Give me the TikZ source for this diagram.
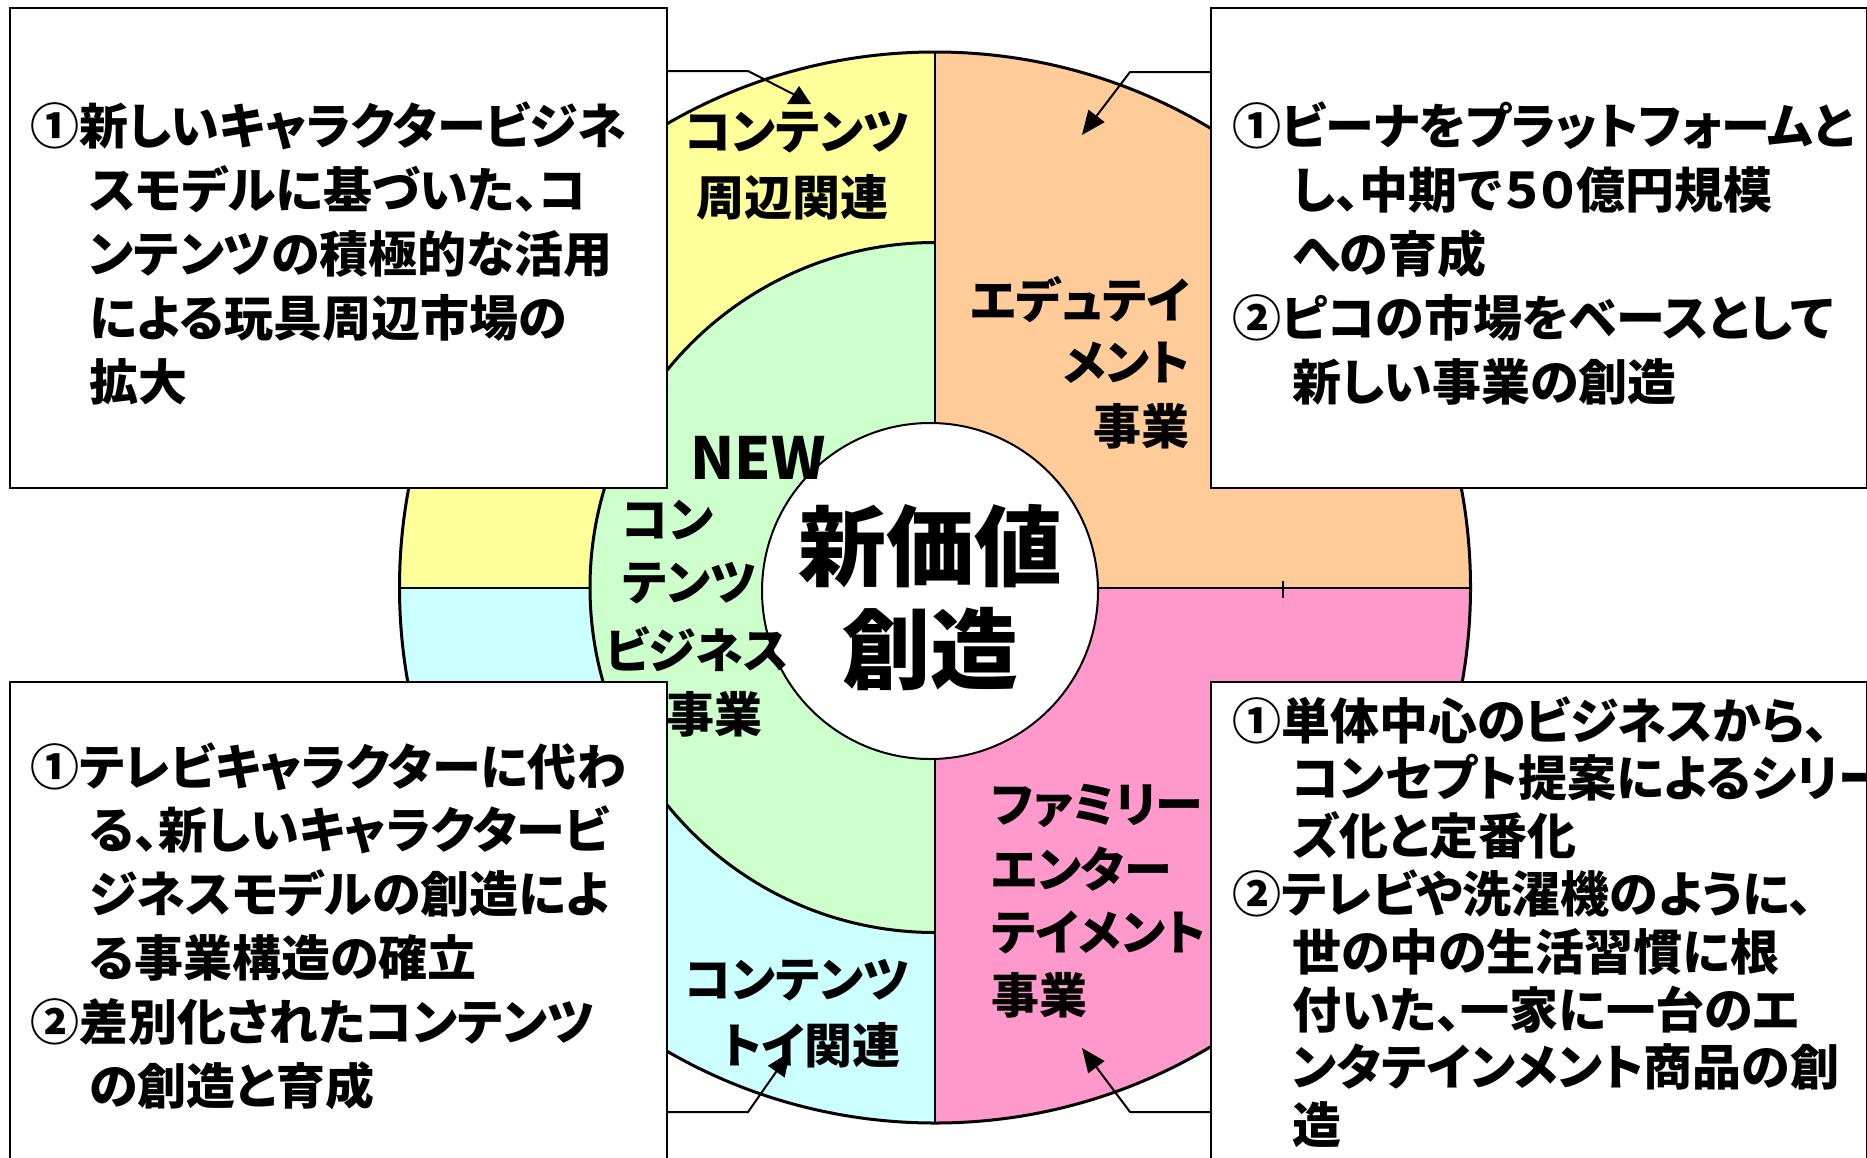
\documentclass[tikz,border=0pt]{standalone}
\usepackage{fontspec}
\newfontfamily\jp[RawFeature=+palt]{Noto Sans CJK JP}
\usetikzlibrary{arrows.meta}
\definecolor{cyel}{HTML}{FFFF99}
\definecolor{corg}{HTML}{FFCC99}
\definecolor{cgrn}{HTML}{CCFFCC}
\definecolor{ccyn}{HTML}{CCFFFF}
\definecolor{cpnk}{HTML}{FF99CC}
\begin{document}
\begin{tikzpicture}[x=1pt,y=-1pt,
  box/.style={draw=black, line width=2pt, fill=white, inner sep=0pt, anchor=north west},
  bt/.style={anchor=base west, inner sep=0pt, font=\jp\bfseries\fontsize{49}{60}\selectfont},
  lab/.style={inner sep=0pt, font=\jp\bfseries\fontsize{48}{60}\selectfont},
  big/.style={inner sep=0pt, font=\jp\bfseries\fontsize{88}{96}\selectfont},
  conn/.style={line width=2pt},
  outl/.style={line width=3pt},
  tip/.style={-{Triangle[length=24pt,width=20pt]}}]
\clip (0,0) rectangle (1867,1157);
\fill[white] (0,0) rectangle (1867,1157);
\def\cx{935}\def\cy{587.5}\def\R{535.5}\def\rg{345}
% quadrants
\begin{scope}\clip (0,0) rectangle (\cx,\cy); \fill[cyel] (\cx,\cy) circle[radius=\R]; \end{scope}
\begin{scope}\clip (0,\cy) rectangle (\cx,1157); \fill[ccyn] (\cx,\cy) circle[radius=\R]; \end{scope}
\begin{scope}\clip (\cx,0) rectangle (1867,\cy); \fill[corg] (\cx,\cy) circle[radius=\R]; \end{scope}
\begin{scope}\clip (\cx,\cy) rectangle (1867,1157); \fill[cpnk] (\cx,\cy) circle[radius=\R]; \end{scope}
\begin{scope}\clip (0,0) rectangle (\cx,1157);
  \fill[cgrn] (\cx,\cy) circle[radius=\rg];
  \draw[outl] (\cx,\cy) circle[radius=\rg];
\end{scope}
\draw[outl] (\cx,\cy) circle[radius=\R];
\draw[line width=2pt] (\cx,52) -- (\cx,1123);
\draw[line width=2pt] (\cx,\cy) -- (1471,\cy);
\draw[line width=2pt] (400,\cy) -- (590,\cy);
\draw[line width=2pt] (1283,581) -- (1283,598);
% quadrant labels
\node[lab] (y1) at (797,132) {コンテンツ};
\node[lab] (y2) at (792,197) {周辺関連};
\node[lab, anchor=east] (o1) at (1190,300) {エデュテイ};
\node[lab, anchor=east] (o2) at (1190,363) {メント};
\node[lab, anchor=east] (o3) at (1190,426) {事業};
\node[lab, anchor=west] (p1) at (991,806) {ファミリー};
\node[lab, anchor=west] (p2) at (991,869) {エンター};
\node[lab, anchor=west] (p3) at (991,932) {テイメント};
\node[lab, anchor=west] (p4) at (991,995) {事業};
\node[lab] (c1) at (797,980) {コンテンツ};
\node[lab] (c2) at (811,1045) {トイ関連};
% centre
\node[circle, draw=black, line width=2pt, fill=white, minimum size=336pt, inner sep=0pt] (core) at (930,591) {};
\node[big] (core1) at (930,546) {新価値};
\node[big] (core2) at (930,649) {創造};
% green labels
\node[inner sep=0pt, font=\jp\bfseries\fontsize{58}{60}\selectfont] (g0) at (758,458) {NEW};
\node[lab, anchor=west] (g1) at (622,520) {コン};
\node[lab, anchor=west] (g2) at (622,583) {テンツ};
\node[lab, anchor=west] (g3) at (605,649) {ビジネス};
\node[lab, anchor=east] (g4) at (763,714) {事業};
% boxes
\node[box, minimum width=657pt, minimum height=480pt] (tlbox) at (9,7) {};
\node[box, minimum width=656pt, minimum height=480pt] (trbox) at (1210,7) {};
\node[box, minimum width=657pt, minimum height=520pt] (blbox) at (9,681) {};
\node[box, minimum width=656pt, minimum height=520pt] (brbox) at (1210,681) {};
\foreach \d/\t [count=\i] in {0/①新しいキャラクタービジネ, 1/スモデルに基づいた、コ, 1/ンテンツの積極的な活用, 1/による玩具周辺市場の, 1/拡大}
  \node[bt] (tl\i) at ({30+59*\d},{144+64*(\i-1)}) {\t};
\foreach \d/\t [count=\i] in {0/①ビーナをプラットフォームと, 1/し、中期で５０億円規模, 1/への育成, 0/②ピコの市場をベースとして, 1/新しい事業の創造}
  \node[bt] (tr\i) at ({1232+60*\d},{144+64*(\i-1)}) {\t};
\foreach \d/\t [count=\i] in {0/①テレビキャラクターに代わ, 1/る、新しいキャラクタービ, 1/ジネスモデルの創造によ, 1/る事業構造の確立, 0/②差別化されたコンテンツ, 1/の創造と育成}
  \node[bt] (bl\i) at ({30+59*\d},{785+63.8*(\i-1)}) {\t};
\foreach \d/\t [count=\i] in {0/①単体中心のビジネスから、, 1/コンセプト提案によるシリー, 1/ズ化と定番化, 0/②テレビや洗濯機のように、, 1/世の中の生活習慣に根, 1/付いた、一家に一台のエ, 1/ンタテインメント商品の創, 1/造}
  \node[bt] (br\i) at ({1232+60*\d},{739+57.8*(\i-1)}) {\t};
% connectors
\coordinate (tlend) at (795,95);
\coordinate (trtip) at (1082,135);
\coordinate (bltip) at (790,1052);
\coordinate (brtip) at (1082,1048);
\draw[conn] ([yshift=-64pt]tlbox.north east) -- ++(80,0) -- (tlend);
\fill (799,86) -- (787,104) -- (811,104) -- cycle;
\draw[conn, tip] ([yshift=-65pt]trbox.north west) -- ++(-80,0) -- (trtip);
\draw[conn, tip] ([yshift=-431pt]blbox.north east) -- ++(80,0) -- (bltip);
\draw[conn, tip] ([yshift=-431pt]brbox.north west) -- ++(-80,0) -- (brtip);
\end{tikzpicture}
\end{document}
